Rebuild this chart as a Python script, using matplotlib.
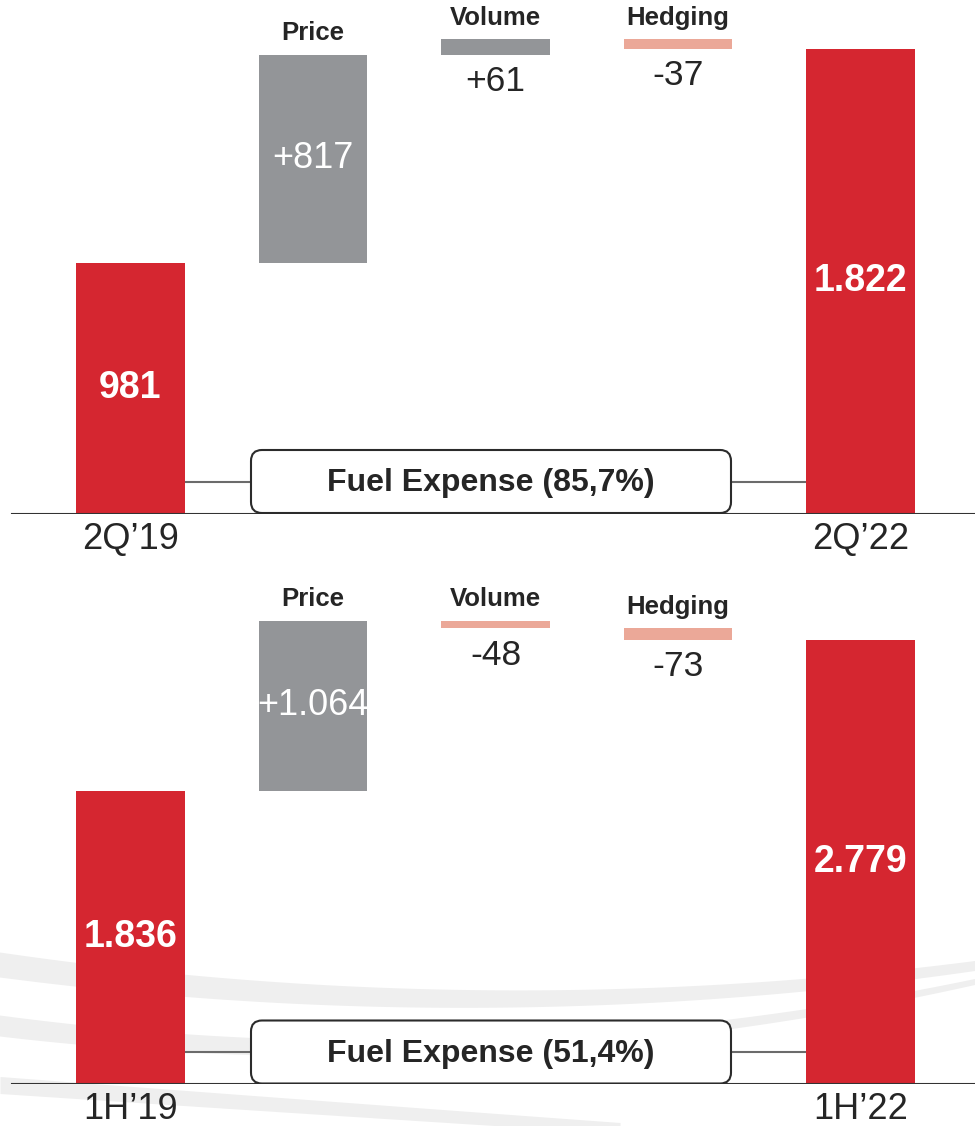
import numpy as np
import matplotlib
matplotlib.use("Agg")
import matplotlib.pyplot as plt
from matplotlib.patches import FancyBboxPatch

plt.rcParams['font.family'] = ['Liberation Sans', 'DejaVu Sans']

# ---- data ----
step_names = ["Price", "Volume", "Hedging"]

q_labels = ["2Q\u201919", "2Q\u201922"]
q_start = 981
q_steps = [817, 61, -37]
q_end = 1822
q_share = "Fuel Expense (85,7%)"

h_labels = ["1H\u201919", "1H\u201922"]
h_start = 1836
h_steps = [1064, -48, -73]
h_end = 2779
h_share = "Fuel Expense (51,4%)"

# ---- style ----
RED = "#D52630"
GRAY = "#939598"
SALMON = "#EBA898"
DARK = "#252525"
BAND = "#EFEFEF"

W, H = 975, 1126
SPACING = 182.5      # px between bar centres
X0 = 130.5           # px of first bar centre
BAR_W = 0.597


def fmt(v, sign=False):
    s = f"{abs(v):,}".replace(",", ".")
    if sign:
        s = ("+" if v > 0 else "-") + s
    return s


def draw_panel(ax, ax_h_px, ymax, labels, start, steps, end, share):
    ppu = ax_h_px / ymax  # pixels per unit
    ax.set_xlim(-X0 / SPACING, (W - X0) / SPACING)
    ax.set_ylim(0, ymax)
    ax.set_axis_off()

    # start / end bars
    ax.bar([0, 4], [start, end], width=BAR_W, color=RED, zorder=2)
    for x, v in [(0, start), (4, end)]:
        ax.text(x, v / 2, fmt(v), color="white", fontsize=27, fontweight="bold",
                ha="center", va="center", zorder=4)

    # step bars
    cum = start
    for i, v in enumerate(steps):
        x = i + 1
        bottom = cum if v > 0 else cum + v
        ax.bar(x, abs(v), bottom=bottom, width=BAR_W,
               color=GRAY if v > 0 else SALMON, zorder=2)
        top = bottom + abs(v)
        ax.annotate(step_names[i], xy=(x, top), xytext=(0, 15.5), textcoords="offset points",
                    ha="center", va="center", fontsize=18.5, fontweight="bold",
                    color=DARK, annotation_clip=False)
        if abs(v) * ppu > 60:
            ax.text(x, bottom + abs(v) / 2, fmt(v, True), color="white", fontsize=26,
                    ha="center", va="center", zorder=4)
        else:
            ax.annotate(fmt(v, True), xy=(x, bottom), xytext=(0, -19.5), textcoords="offset points",
                        ha="center", va="center", fontsize=25.5, color=DARK,
                        annotation_clip=False)
        cum += v

    # baseline
    ax.axhline(0, xmin=12 / W, xmax=1, color="#333333", lw=1.5, zorder=3)

    # category labels
    for x, lab in zip([0, 4], labels):
        ax.annotate(lab, xy=(x, 0), xytext=(0, -18.5), textcoords="offset points",
                    ha="center", va="center", fontsize=26, color=DARK,
                    annotation_clip=False)

    # fuel expense box with connectors
    bx0 = (251 - X0) / SPACING
    bx1 = (731 - X0) / SPACING
    bh = 63 / ppu
    box = FancyBboxPatch((bx0, 0.5 / ppu), bx1 - bx0, bh,
                         boxstyle="round,pad=0,rounding_size=0.06",
                         mutation_aspect=SPACING / ppu,
                         facecolor="white", edgecolor="#2b2b2b", lw=1.5, zorder=3)
    ax.add_patch(box)
    yc = 0.5 / ppu + bh / 2
    ax.plot([BAR_W / 2, bx0], [yc, yc], color="#6b6b6b", lw=1.5, zorder=1)
    ax.plot([bx1, 4 - BAR_W / 2], [yc, yc], color="#6b6b6b", lw=1.5, zorder=1)
    ax.text((bx0 + bx1) / 2, yc - 2 / ppu, share, ha="center", va="center", fontsize=23,
            fontweight="bold", color=DARK, zorder=4)


fig = plt.figure(figsize=(W / 100, H / 100), dpi=100)
fig.patch.set_facecolor("white")

# background swooshes
bg = fig.add_axes([0, 0, 1, 1], zorder=0)
bg.set_xlim(0, W)
bg.set_ylim(H, 0)
bg.set_axis_off()
for xs, ys, w0, w1 in [
    ([0, 500, 975], [965, 999, 966], 25, 10),
    ([0, 500, 975], [1026, 1045, 982], 21, 6),
    ([0, 300, 620], [1085, 1106, 1128], 17, 11),
]:
    c = np.polyfit(xs, ys, 2)
    xx = np.linspace(xs[0], xs[-1], 300)
    yy = np.polyval(c, xx)
    tt = np.linspace(w0, w1, xx.size)
    bg.fill_between(xx, yy - tt / 2, yy + tt / 2, color=BAND, lw=0)

# top panel: baseline at px 513.5, top at px 0
top_h = 513.5
ax1 = fig.add_axes([0, (H - top_h) / H, 1, top_h / H], zorder=1)
ax1.patch.set_alpha(0)
draw_panel(ax1, top_h, top_h / 0.2552, q_labels, q_start, q_steps, q_end, q_share)

# bottom panel: baseline at px 1084, top at px 556
bot_top, bot_base = 556, 1084
ax2 = fig.add_axes([0, (H - bot_base) / H, 1, (bot_base - bot_top) / H], zorder=1)
ax2.patch.set_alpha(0)
draw_panel(ax2, bot_base - bot_top, (bot_base - bot_top) / 0.1598,
           h_labels, h_start, h_steps, h_end, h_share)

fig.savefig("out.png", dpi=100)
